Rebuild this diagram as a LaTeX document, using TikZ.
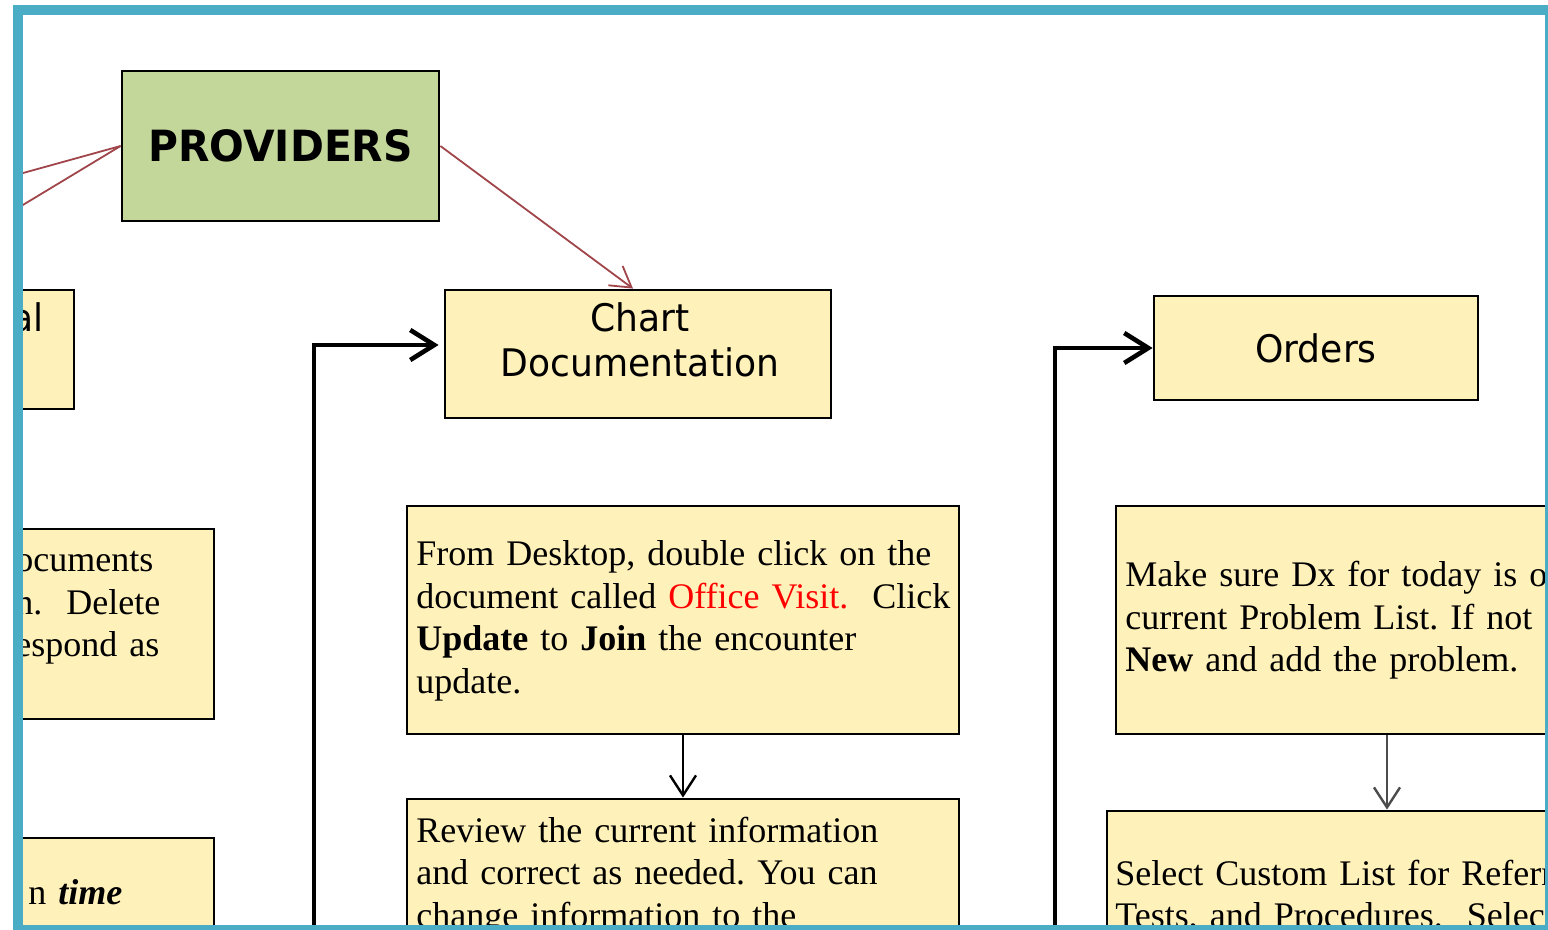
\documentclass[tikz,border=0pt]{standalone}
\usepackage{fontspec}
\setmainfont{Liberation Serif}
\newfontfamily\diagsans[FakeStretch=0.95]{DejaVu Sans}
\usetikzlibrary{arrows.meta,calc}
\definecolor{frameblue}{HTML}{4BACC6}
\definecolor{provgreen}{HTML}{C4D79B}
\definecolor{notefill}{HTML}{FFF1BA}
\definecolor{linkred}{HTML}{A0464B}
\frenchspacing
\begin{document}
\begin{tikzpicture}[x=0.5pt,y=-0.5pt,
  stepbox/.style={draw=black, line width=1.4pt, fill=notefill, inner sep=0pt},
  notetext/.style={anchor=base west, inner sep=0pt, align=left, text width=420pt,
    font=\fontsize{18pt}{21.25pt}\selectfont},
  titletext/.style={font=\diagsans\fontsize{19pt}{22.5pt}\selectfont},
  feed/.style={line width=2.3pt, -{Straight Barb[length=12pt,width=15pt]}},
  flow/.style={line width=1.2pt, -{Straight Barb[length=10pt,width=13pt]}},
  link/.style={linkred, line width=0.9pt},
]
\useasboundingbox (0,0) rectangle (1548,930);
\fill[white] (0,0) rectangle (1548,930);

\begin{scope}
\clip (23,15) rectangle (1545,925);

% top node
\node[stepbox, fill=provgreen, minimum width=158.5pt, minimum height=75pt,
  font=\diagsans\bfseries\fontsize{21.5pt}{25pt}\selectfont] (prov) at (280.5,146) {PROVIDERS};

% boxes on the left edge
\node[stepbox, minimum width=47pt, minimum height=59.5pt] (lbA) at (27,349.5) {};
\node[titletext, anchor=base east, inner sep=0pt] (lbAtext) at (44,332) {al};
\node[stepbox, minimum width=117pt, minimum height=95pt] (lbB) at (97,624) {};
\node[notetext] (lbBtext) at (15,572) {ocuments\\n.\ \ Delete\\espond as};
\node[stepbox, minimum width=117pt, minimum height=61pt] (lbC) at (97,899) {};
\node[notetext] (lbCtext) at (28,904) {n \textbf{\textit{time}}};

% chart documentation column
\node[stepbox, minimum width=193pt, minimum height=64pt] (chart) at (638,354) {};
\node[titletext, align=center, text width=180pt, anchor=base, inner sep=0pt]
  (charttitle) at (640,332) {Chart\\Documentation};
\node[stepbox, minimum width=276pt, minimum height=114pt] (desk) at (683,620) {};
\node[notetext] (desktext) at (416,566) {From Desktop, double click on the\\
  document called \textcolor{red}{Office Visit.}\ \ Click\\
  \textbf{Update} to \textbf{Join} the encounter\\
  update.};
\node[stepbox, minimum width=276pt, minimum height=80.5pt] (review) at (683,879.5) {};
\node[notetext] (reviewtext) at (416,842) {Review the current information\\
  and correct as needed. You can\\
  change information to the};

% orders column
\node[stepbox, titletext, minimum width=162pt, minimum height=52pt] (orders) at (1316,348) {Orders};
\node[stepbox, minimum width=271pt, minimum height=114pt] (dx) at (1387,620) {};
\node[notetext] (dxtext) at (1125,587) {Make sure Dx for today is on\\
  current Problem List. If not c\\
  \textbf{New} and add the problem.};
\node[stepbox, minimum width=280pt, minimum height=74.5pt] (sel) at (1387,885.5) {};
\node[notetext] (seltext) at (1115,885) {Select Custom List for Referr\\
  Tests, and Procedures.\ \ Selec};

% connectors
\coordinate (leftA) at (-60,196);
\coordinate (leftB) at (-60,255);
\draw[link] (prov.west) -- (leftA);
\draw[link] (prov.west) -- (leftB);
\draw[link, -{Straight Barb[length=10pt,width=12pt]}] (prov.east) -- ($(chart.north)+(-5,0)$);
\coordinate (chartfeed) at (314,960);
\draw[feed, shorten >=2.5pt] (chartfeed) |- ($(chart.west)+(0,-9)$);
\coordinate (orderfeed) at (1055,960);
\draw[feed] (orderfeed) |- (orders.west);
\draw[flow] (desk.south) -- (review.north);
\draw[flow, black!70] (dx.south) -- (sel.north);
\end{scope}

% outer frame
\draw[frameblue, line width=5pt] (18,10) rectangle (1550,930);
\end{tikzpicture}
\end{document}
